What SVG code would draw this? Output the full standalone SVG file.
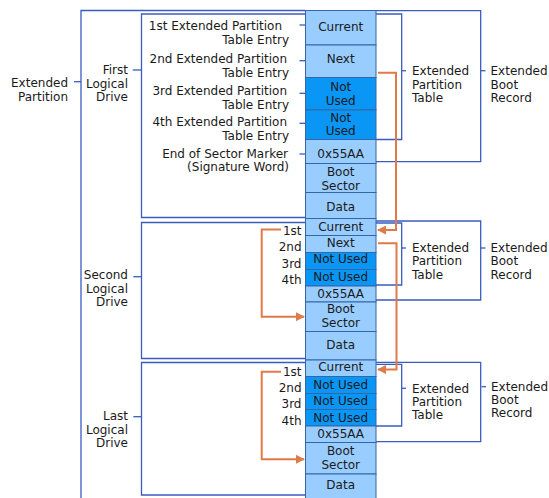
<svg xmlns="http://www.w3.org/2000/svg" width="549" height="498" viewBox="0 0 549 498">
<defs>
<style>
text{font-family:"DejaVu Sans","Liberation Sans",sans-serif;font-size:12px;fill:#1a1a1a}
.e{text-anchor:end}
.m{text-anchor:middle}
.br{fill:none;stroke:#3a5cbf;stroke-width:1.3}
.lc{fill:#99ccff;stroke:#3566a8;stroke-width:1}
.dc{fill:#0a96f5;stroke:#3566a8;stroke-width:1}
.or{fill:none;stroke:#e07a48;stroke-width:2}
</style>
<marker id="ah" viewBox="0 0 10 10" refX="9" refY="5" markerWidth="4.5" markerHeight="4.5" orient="auto" markerUnits="strokeWidth">
<path d="M0,0 L10,5 L0,10 z" fill="#e07a48"/>
</marker>
</defs>
<rect width="549" height="498" fill="#ffffff"/>

<g id="extended-partition">
<polyline class="br" points="305,10.5 81,10.5 81,498"/>
<line class="br" x1="74" y1="81.7" x2="81" y2="81.7"/>
<text class="e" x="68" y="87">Extended</text>
<text class="e" x="68" y="101">Partition</text>
</g>

<g id="first-drive">
<polyline class="br" points="305,14 141.5,14 141.5,217.5 305,217.5"/>
<line class="br" x1="132.7" y1="70" x2="141.5" y2="70"/>
<text class="e" x="128" y="74">First</text>
<text class="e" x="128" y="87.5">Logical</text>
<text class="e" x="128" y="101">Drive</text>
<text class="e" x="282" y="30">1st Extended Partition</text>
<text class="e" x="289" y="43.5">Table Entry</text>
<text class="e" x="287" y="63">2nd Extended Partition</text>
<text class="e" x="289" y="76.5">Table Entry</text>
<text class="e" x="287" y="95">3rd Extended Partition</text>
<text class="e" x="289" y="108.5">Table Entry</text>
<text class="e" x="287" y="126">4th Extended Partition</text>
<text class="e" x="289" y="140">Table Entry</text>
<text class="e" x="288" y="157.5">End of Sector Marker</text>
<text class="e" x="289" y="171">(Signature Word)</text>
<line class="br" x1="299.5" y1="25" x2="305" y2="25"/>
<line class="br" x1="299.5" y1="60.7" x2="305" y2="60.7"/>
<line class="br" x1="299.5" y1="93.3" x2="305" y2="93.3"/>
<line class="br" x1="299.5" y1="123.3" x2="305" y2="123.3"/>
<line class="br" x1="299.5" y1="154" x2="305" y2="154"/>
<rect class="lc" x="305.5" y="10.5" width="70.5" height="34.5"/>
<rect class="lc" x="305.5" y="45" width="70.5" height="32.5"/>
<rect class="dc" x="305.5" y="77.5" width="70.5" height="32.5"/>
<rect class="dc" x="305.5" y="110" width="70.5" height="29.5"/>
<rect class="lc" x="305.5" y="139.5" width="70.5" height="24"/>
<rect class="lc" x="305.5" y="163.5" width="70.5" height="29"/>
<rect class="lc" x="305.5" y="192.5" width="70.5" height="26"/>
<text class="m" x="340.7" y="31">Current</text>
<text class="m" x="340.7" y="63">Next</text>
<text class="m" x="340.7" y="91">Not</text>
<text class="m" x="340.7" y="104.5">Used</text>
<text class="m" x="340.7" y="121.5">Not</text>
<text class="m" x="340.7" y="135">Used</text>
<text class="m" x="340.7" y="157.5">0x55AA</text>
<text class="m" x="340.7" y="176">Boot</text>
<text class="m" x="340.7" y="189.5">Sector</text>
<text class="m" x="340.7" y="211">Data</text>
<polyline class="br" points="376,14 401.7,14 401.7,139.5 376,139.5"/>
<line class="br" x1="401.7" y1="70.7" x2="406" y2="70.7"/>
<text x="412" y="75">Extended</text>
<text x="412" y="88.5">Partition</text>
<text x="412" y="102">Table</text>
<polyline class="br" points="376,10.7 480.7,10.7 480.7,161.7 376,161.7"/>
<line class="br" x1="480.7" y1="70.7" x2="485.5" y2="70.7"/>
<text x="490.5" y="75">Extended</text>
<text x="490.5" y="88.5">Boot</text>
<text x="490.5" y="102">Record</text>
</g>

<g id="second-drive">
<polyline class="br" points="305,222.5 141.5,222.5 141.5,358.5 305,358.5"/>
<line class="br" x1="133.3" y1="276.7" x2="141.5" y2="276.7"/>
<text class="e" x="128" y="278.5">Second</text>
<text class="e" x="128" y="292.5">Logical</text>
<text class="e" x="128" y="306">Drive</text>
<text class="e" x="301.5" y="235">1st</text>
<text class="e" x="301.5" y="251">2nd</text>
<text class="e" x="301.5" y="268">3rd</text>
<text class="e" x="301.5" y="284">4th</text>
<rect class="lc" x="305.5" y="218.5" width="70.5" height="17"/>
<rect class="lc" x="305.5" y="235.5" width="70.5" height="17"/>
<rect class="dc" x="305.5" y="252.5" width="70.5" height="17"/>
<rect class="dc" x="305.5" y="269.5" width="70.5" height="16.5"/>
<rect class="lc" x="305.5" y="286" width="70.5" height="16"/>
<rect class="lc" x="305.5" y="302" width="70.5" height="29.5"/>
<rect class="lc" x="305.5" y="331.5" width="70.5" height="28.5"/>
<text class="m" x="340.7" y="231">Current</text>
<text class="m" x="340.7" y="247">Next</text>
<text class="m" x="340.7" y="263.3">Not Used</text>
<text class="m" x="340.7" y="281.3">Not Used</text>
<text class="m" x="340.7" y="297.5">0x55AA</text>
<text class="m" x="340.7" y="312.5">Boot</text>
<text class="m" x="340.7" y="326.5">Sector</text>
<text class="m" x="340.7" y="349.3">Data</text>
<polyline class="br" points="376,223 401.7,223 401.7,285 376,285"/>
<line class="br" x1="401.7" y1="248" x2="406" y2="248"/>
<text x="412" y="251.5">Extended</text>
<text x="412" y="265">Partition</text>
<text x="412" y="279">Table</text>
<polyline class="br" points="376,221 480.7,221 480.7,300 376,300"/>
<line class="br" x1="480.7" y1="248" x2="485.5" y2="248"/>
<text x="490.5" y="251.5">Extended</text>
<text x="490.5" y="265">Boot</text>
<text x="490.5" y="279">Record</text>
</g>

<g id="last-drive">
<polyline class="br" points="305,362.5 141.5,362.5 141.5,495 305,495"/>
<line class="br" x1="133.3" y1="416.7" x2="141.5" y2="416.7"/>
<text class="e" x="128" y="420">Last</text>
<text class="e" x="128" y="433.5">Logical</text>
<text class="e" x="128" y="447">Drive</text>
<text class="e" x="301.5" y="376">1st</text>
<text class="e" x="301.5" y="391.5">2nd</text>
<text class="e" x="301.5" y="408">3rd</text>
<text class="e" x="301.5" y="425">4th</text>
<rect class="lc" x="305.5" y="360" width="70.5" height="16.5"/>
<rect class="dc" x="305.5" y="376.5" width="70.5" height="17"/>
<rect class="dc" x="305.5" y="393.5" width="70.5" height="16"/>
<rect class="dc" x="305.5" y="409.5" width="70.5" height="16.5"/>
<rect class="lc" x="305.5" y="426" width="70.5" height="16.5"/>
<rect class="lc" x="305.5" y="442.5" width="70.5" height="31.5"/>
<rect class="lc" x="305.5" y="474" width="70.5" height="26"/>
<text class="m" x="340.7" y="371">Current</text>
<text class="m" x="340.7" y="388.5">Not Used</text>
<text class="m" x="340.7" y="405">Not Used</text>
<text class="m" x="340.7" y="421.5">Not Used</text>
<text class="m" x="340.7" y="437.5">0x55AA</text>
<text class="m" x="340.7" y="455">Boot</text>
<text class="m" x="340.7" y="468.5">Sector</text>
<text class="m" x="340.7" y="489.3">Data</text>
<polyline class="br" points="376,364.3 401.7,364.3 401.7,426 376,426"/>
<line class="br" x1="401.7" y1="388.3" x2="406" y2="388.3"/>
<text x="412" y="392.5">Extended</text>
<text x="412" y="406">Partition</text>
<text x="412" y="419.3">Table</text>
<polyline class="br" points="376,362.3 480.7,362.3 480.7,441.7 376,441.7"/>
<line class="br" x1="481.5" y1="386.7" x2="486" y2="386.7"/>
<text x="491" y="391">Extended</text>
<text x="491" y="404">Boot</text>
<text x="491" y="417">Record</text>
</g>

<g id="connectors">
<polyline class="or" marker-end="url(#ah)" points="378,72.7 396,72.7 396,230 378,230"/>
<polyline class="or" marker-end="url(#ah)" points="378,243.3 396.5,243.3 396.5,369.5 378,369.5"/>
<polyline class="or" marker-end="url(#ah)" points="281,229.5 261.7,229.5 261.7,316.7 304,316.7"/>
<polyline class="or" marker-end="url(#ah)" points="281,371.7 261.7,371.7 261.7,459.3 304,459.3"/>
</g>
</svg>
